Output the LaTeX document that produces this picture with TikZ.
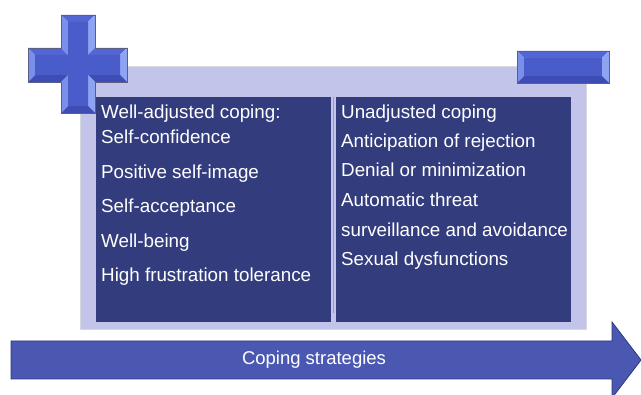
\documentclass[tikz,border=0pt]{standalone}
\usepackage{fontspec}
\setmainfont{Liberation Sans}
\definecolor{panelfill}{HTML}{C2C5E9}
\definecolor{panelline}{HTML}{D6D7DF}
\definecolor{darkbox}{HTML}{333D7E}
\definecolor{divline}{HTML}{9A9CB4}
\definecolor{arrowfill}{HTML}{4A58B2}
\definecolor{arrowline}{HTML}{2C3680}
\definecolor{bevC}{HTML}{4A5CC9}
\definecolor{bevT}{HTML}{5366D4}
\definecolor{bevB}{HTML}{3D4DB5}
\definecolor{bevL}{HTML}{7A8FEA}
\definecolor{bevR}{HTML}{8EA4F3}
\definecolor{bevEdge}{HTML}{5B5F86}
\tikzset{
  itemtext/.style={anchor=base west, text=white, font=\fontsize{18.8}{22}\selectfont, inner sep=0pt},
  arrowtext/.style={text=white, font=\fontsize{18.5}{22}\selectfont, inner sep=0pt},
  bevedge/.style={draw=bevEdge, line width=0.8pt},
}
\newcommand{\bevface}[5]{\fill[#1] #2 -- #3 -- #5 -- #4 -- cycle;}
\begin{document}
\begin{tikzpicture}[x=1pt,y=-1pt]
\useasboundingbox (0,0) rectangle (641,395);
\fill[white] (0,0) rectangle (641,395);
% panel
\filldraw[fill=panelfill, draw=panelline, line width=1pt] (80,67) rectangle (586,330);
% boxes
\fill[darkbox] (96,97) rectangle (331,322);
\fill[darkbox] (336,97) rectangle (571,322);
\draw[divline, line width=1.6pt] (333.5,97) -- (333.5,313);
% plus sign (beveled)
\coordinate (P1) at (61,15);  \coordinate (Q1) at (68,22);
\coordinate (P2) at (95,15);  \coordinate (Q2) at (88,22);
\coordinate (P3) at (95,48);  \coordinate (Q3) at (88,55);
\coordinate (P4) at (127,48); \coordinate (Q4) at (120,55);
\coordinate (P5) at (127,82); \coordinate (Q5) at (120,75);
\coordinate (P6) at (95,82);  \coordinate (Q6) at (88,75);
\coordinate (P7) at (95,113); \coordinate (Q7) at (88,106);
\coordinate (P8) at (61,113); \coordinate (Q8) at (68,106);
\coordinate (P9) at (61,82);  \coordinate (Q9) at (68,75);
\coordinate (P10) at (28,82); \coordinate (Q10) at (35,75);
\coordinate (P11) at (28,48); \coordinate (Q11) at (35,55);
\coordinate (P12) at (61,48); \coordinate (Q12) at (68,55);
\bevface{bevT}{(P1)}{(P2)}{(Q1)}{(Q2)}
\bevface{bevR}{(P2)}{(P3)}{(Q2)}{(Q3)}
\bevface{bevT}{(P3)}{(P4)}{(Q3)}{(Q4)}
\bevface{bevR}{(P4)}{(P5)}{(Q4)}{(Q5)}
\bevface{bevB}{(P5)}{(P6)}{(Q5)}{(Q6)}
\bevface{bevR}{(P6)}{(P7)}{(Q6)}{(Q7)}
\bevface{bevB}{(P7)}{(P8)}{(Q7)}{(Q8)}
\bevface{bevL}{(P8)}{(P9)}{(Q8)}{(Q9)}
\bevface{bevB}{(P9)}{(P10)}{(Q9)}{(Q10)}
\bevface{bevL}{(P10)}{(P11)}{(Q10)}{(Q11)}
\bevface{bevT}{(P11)}{(P12)}{(Q11)}{(Q12)}
\bevface{bevL}{(P12)}{(P1)}{(Q12)}{(Q1)}
\fill[bevC] (Q1) -- (Q2) -- (Q3) -- (Q4) -- (Q5) -- (Q6) -- (Q7) -- (Q8) -- (Q9) -- (Q10) -- (Q11) -- (Q12) -- cycle;
\draw[bevedge] (P1) -- (P2) -- (P3) -- (P4) -- (P5) -- (P6) -- (P7) -- (P8) -- (P9) -- (P10) -- (P11) -- (P12) -- cycle;
% minus sign (beveled)
\coordinate (M1) at (517,51); \coordinate (N1) at (524,58);
\coordinate (M2) at (609,51); \coordinate (N2) at (602,58);
\coordinate (M3) at (609,83); \coordinate (N3) at (602,76);
\coordinate (M4) at (517,83); \coordinate (N4) at (524,76);
\bevface{bevT}{(M1)}{(M2)}{(N1)}{(N2)}
\bevface{bevR}{(M2)}{(M3)}{(N2)}{(N3)}
\bevface{bevB}{(M3)}{(M4)}{(N3)}{(N4)}
\bevface{bevL}{(M4)}{(M1)}{(N4)}{(N1)}
\fill[bevC] (N1) -- (N2) -- (N3) -- (N4) -- cycle;
\draw[bevedge] (M1) -- (M2) -- (M3) -- (M4) -- cycle;
% arrow
\filldraw[fill=arrowfill, draw=arrowline, line width=0.8pt]
  (11,341) -- (612,341) -- (612,322) -- (641,360) -- (612,398) -- (612,379) -- (11,379) -- cycle;
\node[arrowtext] (cs) at (314,360) {Coping strategies};
% left column
\node[itemtext] (l1) at (101,119) {Well-adjusted coping:};
\node[itemtext] (l2) at (101,144) {Self-confidence};
\node[itemtext] (l3) at (101,179) {Positive self-image};
\node[itemtext] (l4) at (101,213) {Self-acceptance};
\node[itemtext] (l5) at (101,248) {Well-being};
\node[itemtext] (l6) at (101,282) {High frustration tolerance};
% right column
\node[itemtext] (r1) at (341,119) {Unadjusted coping};
\node[itemtext] (r2) at (341,148) {Anticipation of rejection};
\node[itemtext] (r3) at (341,177) {Denial or minimization};
\node[itemtext] (r4) at (341,207) {Automatic threat};
\node[itemtext] (r5) at (341,237) {surveillance and avoidance};
\node[itemtext] (r6) at (341,266) {Sexual dysfunctions};
\end{tikzpicture}
\end{document}
